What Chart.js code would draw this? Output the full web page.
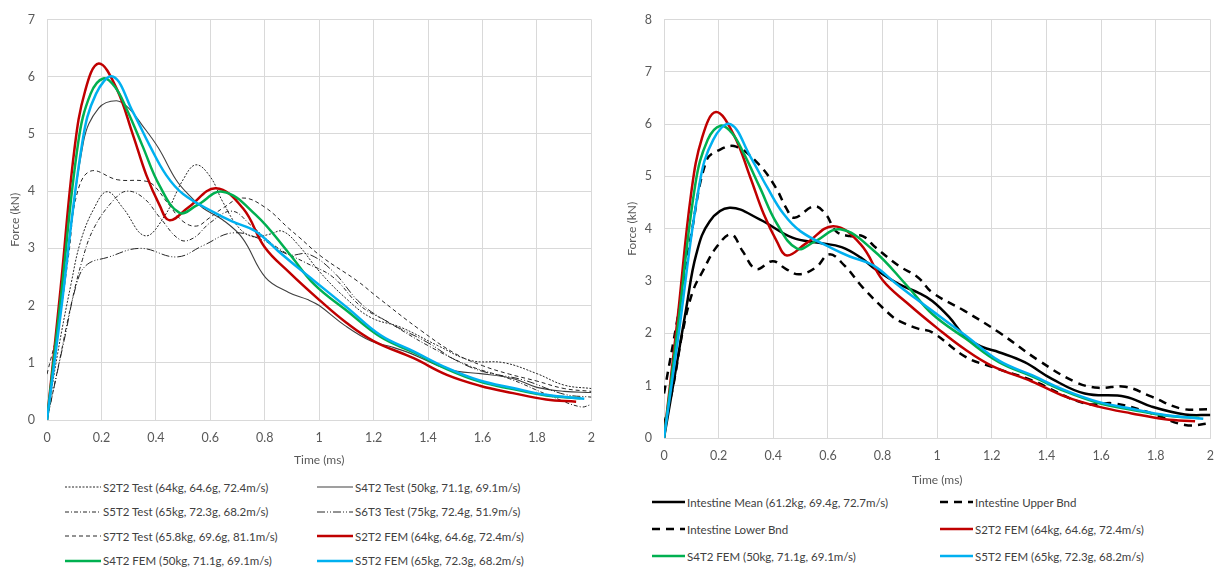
<!DOCTYPE html>
<html>
<head>
<meta charset="utf-8">
<script src="https://cdn.jsdelivr.net/npm/chart.js@4.4.1/dist/chart.umd.min.js"></script>
<style>
  html, body { margin: 0; padding: 0; background: #fff; }
  body { width: 1224px; height: 570px; position: relative; overflow: hidden;
         font-family: Lato, "Liberation Sans", sans-serif; }
  canvas { position: absolute; top: 0; }
  #cL { left: 0; }
  #cR { left: 610px; }
  .item { position: absolute; display: flex; align-items: center; white-space: nowrap;
          height: 16px; font-size: 11.5px; color: #404040; }
  .item svg { flex: none; margin-right: 2px; }
</style>
</head>
<body>
<canvas id="cL" width="605" height="470"></canvas>
<canvas id="cR" width="614" height="490"></canvas>
<div id="legL"></div>
<div id="legR"></div>
<script>
// ---------- Test data (time in ms, force in kN) ----------
const s2t2TestT = [0, 0.039, 0.088, 0.124, 0.173, 0.221, 0.28, 0.36, 0.43, 0.5, 0.547, 0.6, 0.645, 0.705, 0.76, 0.82, 0.865, 0.925, 1.0, 1.095, 1.19, 1.3, 1.436, 1.557, 1.68, 1.8, 1.9, 2.0];
const s2t2TestF = [0, 1.16, 2.37, 3.13, 3.70, 3.99, 3.7, 3.22, 3.55, 4.2, 4.46, 4.25, 3.82, 3.36, 3.2, 3.25, 3.3, 3.05, 2.6, 2.14, 1.79, 1.62, 1.3, 1.04, 1.0, 0.81, 0.61, 0.55];

const s4t2TestT = [0, 0.05, 0.134, 0.19, 0.255, 0.3, 0.35, 0.41, 0.474, 0.52, 0.574, 0.645, 0.718, 0.803, 0.888, 0.96, 1.0, 1.095, 1.19, 1.265, 1.338, 1.436, 1.508, 1.593, 1.715, 1.8, 1.9, 2.0];
const s4t2TestF = [0, 1.9, 4.86, 5.45, 5.58, 5.45, 5.15, 4.75, 4.2, 3.94, 3.7, 3.5, 3.18, 2.49, 2.23, 2.1, 2.0, 1.65, 1.38, 1.28, 1.16, 0.95, 0.85, 0.81, 0.72, 0.57, 0.5, 0.48];

const s5t2TestT = [0, 0.04, 0.088, 0.13, 0.173, 0.246, 0.294, 0.355, 0.416, 0.489, 0.538, 0.6, 0.68, 0.75, 0.85, 0.95, 1.05, 1.15, 1.25, 1.4, 1.55, 1.7, 1.85, 1.96, 2.0];
const s5t2TestF = [0, 0.9, 2.0, 2.8, 3.36, 3.85, 4.0, 3.88, 3.53, 3.15, 3.18, 3.45, 3.65, 3.4, 3.0, 2.75, 2.5, 2.0, 1.72, 1.3, 0.95, 0.72, 0.42, 0.23, 0.27];

const s6t3TestT = [0, 0.063, 0.112, 0.148, 0.221, 0.343, 0.477, 0.574, 0.681, 0.79, 0.888, 0.96, 1.05, 1.15, 1.25, 1.4, 1.5, 1.6, 1.75, 1.9, 2.0];
const s6t3TestF = [0, 1.39, 2.43, 2.72, 2.84, 3.0, 2.85, 3.05, 3.27, 3.15, 2.89, 2.9, 2.6, 2.05, 1.72, 1.35, 1.05, 0.85, 0.7, 0.45, 0.4];

const s7t2TestT = [0, 0.04, 0.08, 0.11, 0.16, 0.258, 0.355, 0.39, 0.45, 0.5, 0.55, 0.596, 0.645, 0.718, 0.8, 0.888, 0.925, 1.01, 1.14, 1.216, 1.375, 1.5, 1.6, 1.7, 1.8, 1.9, 2.0];
const s7t2TestF = [0.8, 1.6, 2.9, 3.95, 4.35, 4.2, 4.18, 4.11, 3.75, 3.47, 3.39, 3.53, 3.7, 3.88, 3.72, 3.35, 3.2, 2.85, 2.43, 2.14, 1.56, 1.16, 0.95, 0.8, 0.68, 0.55, 0.5];

// ---------- FEM results ----------
const s2t2FemT = [0, 0.05, 0.1, 0.14, 0.19, 0.255, 0.316, 0.365, 0.413, 0.45, 0.52, 0.62, 0.72, 0.8, 0.89, 1.0, 1.1, 1.2, 1.347, 1.469, 1.59, 1.712, 1.834, 1.944];
const s2t2FemF = [0, 2.3, 4.7, 5.75, 6.23, 5.8, 4.98, 4.28, 3.76, 3.49, 3.72, 4.05, 3.7, 3.02, 2.58, 2.1, 1.7, 1.38, 1.08, 0.79, 0.6, 0.47, 0.36, 0.32];

const s4t2FemT = [0, 0.05, 0.115, 0.16, 0.207, 0.25, 0.292, 0.35, 0.413, 0.487, 0.55, 0.645, 0.766, 0.888, 0.982, 1.104, 1.226, 1.347, 1.469, 1.59, 1.712, 1.834, 1.96];
const s4t2FemF = [0, 2.1, 4.86, 5.7, 5.97, 5.82, 5.44, 4.8, 4.1, 3.62, 3.75, 3.99, 3.59, 2.92, 2.37, 1.9, 1.45, 1.18, 0.89, 0.67, 0.54, 0.43, 0.38];

const s5t2FemT = [0, 0.05, 0.13, 0.18, 0.243, 0.316, 0.377, 0.438, 0.5, 0.617, 0.68, 0.766, 0.85, 0.925, 0.982, 1.104, 1.226, 1.347, 1.469, 1.59, 1.712, 1.834, 1.974];
const s5t2FemF = [0, 1.85, 4.86, 5.7, 6.0, 5.38, 4.8, 4.28, 3.95, 3.62, 3.47, 3.3, 2.95, 2.65, 2.43, 1.96, 1.48, 1.2, 0.91, 0.69, 0.56, 0.44, 0.37];

// ---------- Intestine corridor ----------
const meanT = [0, 0.045, 0.082, 0.118, 0.167, 0.24, 0.35, 0.47, 0.568, 0.65, 0.72, 0.775, 0.86, 0.93, 0.982, 1.044, 1.104, 1.165, 1.226, 1.32, 1.42, 1.54, 1.688, 1.785, 1.907, 2.0];
const meanF = [0, 1.36, 2.5, 3.51, 4.14, 4.40, 4.18, 3.83, 3.73, 3.65, 3.45, 3.22, 2.94, 2.78, 2.62, 2.31, 1.93, 1.74, 1.64, 1.45, 1.13, 0.85, 0.79, 0.6, 0.45, 0.44];

const upperT = [0, 0.05, 0.1, 0.155, 0.2, 0.264, 0.349, 0.41, 0.447, 0.477, 0.55, 0.593, 0.63, 0.68, 0.727, 0.775, 0.86, 0.93, 0.982, 1.1, 1.226, 1.372, 1.506, 1.59, 1.688, 1.785, 1.895, 2.0];
const upperF = [0.85, 2.3, 3.9, 5.3, 5.5, 5.57, 5.22, 4.78, 4.4, 4.21, 4.43, 4.27, 3.95, 3.86, 3.86, 3.64, 3.29, 3.07, 2.78, 2.43, 2.02, 1.48, 1.07, 0.96, 0.98, 0.79, 0.56, 0.55];

const lowerT = [0, 0.033, 0.069, 0.106, 0.142, 0.191, 0.246, 0.288, 0.337, 0.398, 0.447, 0.495, 0.556, 0.605, 0.66, 0.727, 0.825, 0.86, 0.93, 0.982, 1.104, 1.2, 1.347, 1.54, 1.65, 1.785, 1.907, 2.0];
const lowerF = [0.25, 0.98, 2.05, 2.81, 3.19, 3.64, 3.89, 3.57, 3.23, 3.38, 3.23, 3.13, 3.26, 3.51, 3.3, 2.88, 2.37, 2.24, 2.09, 2.02, 1.55, 1.36, 1.1, 0.66, 0.66, 0.47, 0.25, 0.28];

// ---------- Axis ranges ----------
const timeRange = [0, 2];
const timeStep = 0.2;
const forceRangeLeft = [0, 7];
const forceRangeRight = [0, 8];

// ---------- Styling ----------
const GRID = '#d9d9d9';
const TEXT = '#595959';
const FONT = 'Lato, "Liberation Sans", sans-serif';
const TEST_GREY = '#262626';

function pts(ts, fs) { return ts.map((t, i) => ({ x: t, y: fs[i] })); }

function line(label, ts, fs, color, width, dash) {
  return { label, data: pts(ts, fs), borderColor: color, backgroundColor: color,
           borderWidth: width, borderDash: dash || [], pointRadius: 0, fill: false,
           tension: 0.4 };
}

const femRed = (l) => line(l, s2t2FemT, s2t2FemF, '#c00000', 2.5);
const femGreen = (l) => line(l, s4t2FemT, s4t2FemF, '#00b050', 2.5);
const femBlue = (l) => line(l, s5t2FemT, s5t2FemF, '#00b0f0', 2.5);

const leftSets = [
  line('S2T2 Test (64kg, 64.6g, 72.4m/s)', s2t2TestT, s2t2TestF, TEST_GREY, 1, [2, 1.5]),
  line('S4T2 Test (50kg, 71.1g, 69.1m/s)', s4t2TestT, s4t2TestF, '#404040', 1.1),
  line('S5T2 Test (65kg, 72.3g, 68.2m/s)', s5t2TestT, s5t2TestF, TEST_GREY, 1, [4, 2, 1, 2]),
  line('S6T3 Test (75kg, 72.4g, 51.9m/s)', s6t3TestT, s6t3TestF, TEST_GREY, 1, [8, 2, 1, 2, 1, 2]),
  line('S7T2 Test (65.8kg, 69.6g, 81.1m/s)', s7t2TestT, s7t2TestF, TEST_GREY, 1, [4, 3]),
  femRed('S2T2 FEM (64kg, 64.6g, 72.4m/s)'),
  femGreen('S4T2 FEM (50kg, 71.1g, 69.1m/s)'),
  femBlue('S5T2 FEM (65kg, 72.3g, 68.2m/s)')
];

const rightSets = [
  line('Intestine Mean (61.2kg, 69.4g, 72.7m/s)', meanT, meanF, '#000000', 2.5),
  line('Intestine Upper Bnd', upperT, upperF, '#000000', 2.5, [8, 6]),
  line('Intestine Lower Bnd', lowerT, lowerF, '#000000', 2.5, [8, 6]),
  femRed('S2T2 FEM (64kg, 64.6g, 72.4m/s)'),
  femGreen('S4T2 FEM (50kg, 71.1g, 69.1m/s)'),
  femBlue('S5T2 FEM (65kg, 72.3g, 68.2m/s)')
];

// later series are painted over earlier ones
[leftSets, rightSets].forEach(sets => sets.forEach((d, i) => { d.order = sets.length - i; }));

function makeOptions(yRange, yWidth, yTitlePad, xHeight, padRight) {
  return {
    responsive: false, animation: false, devicePixelRatio: 1,
    layout: { padding: { top: 17, right: padRight, left: 0, bottom: 0 } },
    plugins: { legend: { display: false }, tooltip: { enabled: false } },
    scales: {
      x: {
        type: 'linear', min: timeRange[0], max: timeRange[1],
        grid: { color: GRID, drawTicks: false },
        border: { color: GRID },
        ticks: { stepSize: timeStep, padding: 10, color: TEXT, font: { family: FONT, size: 12.5 },
                 callback: v => String(Number(v.toFixed(1))) },
        title: { display: true, text: 'Time (ms)', color: TEXT, font: { family: FONT, size: 12 },
                 padding: { top: 4, bottom: 3 } },
        afterFit: s => { s.height = xHeight; }
      },
      y: {
        min: yRange[0], max: yRange[1],
        grid: { color: GRID, drawTicks: false },
        border: { color: GRID },
        ticks: { stepSize: 1, padding: 12, color: TEXT, font: { family: FONT, size: 12.5 } },
        title: { display: true, text: 'Force (kN)', color: TEXT, font: { family: FONT, size: 12 },
                 padding: { top: yTitlePad, bottom: 4 } },
        afterFit: s => { s.width = yWidth; }
      }
    }
  };
}

const chartL = new Chart(document.getElementById('cL'), {
  type: 'line', data: { datasets: leftSets },
  options: makeOptions(forceRangeLeft, 47, 8, 50, 10)
});
const chartR = new Chart(document.getElementById('cR'), {
  type: 'line', data: { datasets: rightSets },
  options: makeOptions(forceRangeRight, 54, 15, 52, 12)
});

// Two-column legend built from each chart's datasets
function buildLegend(chart, host, cols, rows, sampleW) {
  const el = document.getElementById(host);
  chart.data.datasets.forEach((d, i) => {
    const c = i % 2, r = Math.floor(i / 2);
    const item = document.createElement('div');
    item.className = 'item';
    item.style.left = cols[c] + 'px';
    item.style.top = (rows[r] - 8) + 'px';
    const ns = 'http://www.w3.org/2000/svg';
    const svg = document.createElementNS(ns, 'svg');
    svg.setAttribute('width', sampleW);
    svg.setAttribute('height', 10);
    const ln = document.createElementNS(ns, 'line');
    ln.setAttribute('x1', 0); ln.setAttribute('x2', sampleW);
    ln.setAttribute('y1', 5); ln.setAttribute('y2', 5);
    ln.setAttribute('stroke', d.borderColor);
    ln.setAttribute('stroke-width', Math.max(d.borderWidth, 1));
    if (d.borderDash.length) ln.setAttribute('stroke-dasharray', d.borderDash.join(' '));
    svg.appendChild(ln);
    item.appendChild(svg);
    const span = document.createElement('span');
    span.textContent = d.label;
    item.appendChild(span);
    el.appendChild(item);
  });
}
buildLegend(chartL, 'legL', [65, 317], [487, 511.5, 536, 560.5], 36);
buildLegend(chartR, 'legR', [652, 940], [502, 529, 556], 33);
</script>
</body>
</html>
